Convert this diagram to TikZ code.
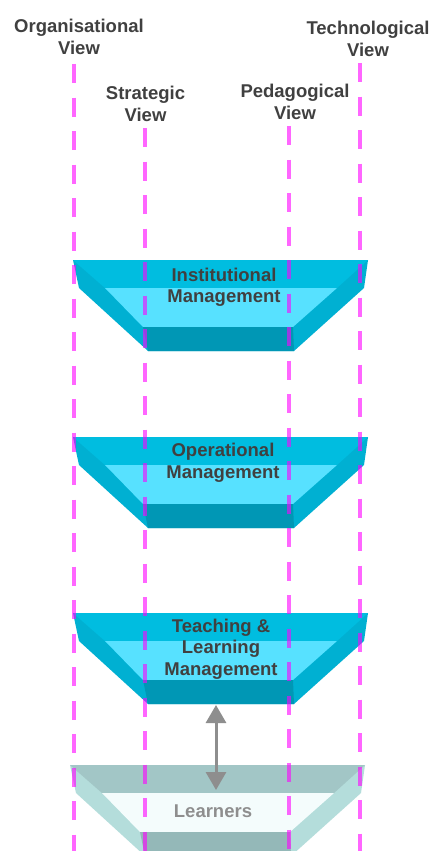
\documentclass[tikz,border=0pt]{standalone}
\usepackage{fontspec}
\setmainfont{Liberation Sans}
\usetikzlibrary{arrows.meta}
\definecolor{txt}{HTML}{404040}
\definecolor{vmag}{RGB}{255,0,255}
\definecolor{cTop}{HTML}{00BDE0}
\definecolor{cSide}{HTML}{00B0D2}
\definecolor{cFace}{HTML}{57E1FF}
\definecolor{cFront}{HTML}{0097B5}
\definecolor{lTop}{HTML}{A2C6C6}
\definecolor{lSide}{HTML}{B4DDDB}
\definecolor{lFace}{HTML}{F4FCFC}
\definecolor{lFront}{HTML}{94B8B8}
\definecolor{arrowgrey}{HTML}{8E8E8E}
\newcommand\troughshape[5]{%
  \begin{scope}[yshift=-#1pt]
    \fill[#3] (73,0) -- (368,0) -- (364,28) -- (294,91) -- (148,91) -- (79,28) -- cycle;
    \fill[#2] (73,0) -- (368,0) -- (337,28) -- (105,28) -- cycle;
    \fill[#4] (105,28) -- (337,28) -- (293,67) -- (143,67) -- cycle;
    \fill[#5] (143,67) -- (293,67) -- (294,91) -- (148,91) -- cycle;
  \end{scope}}
\tikzset{
  lbl/.style={font=\fontsize{18.5}{21.5}\selectfont\bfseries, text=txt, align=center, inner sep=0pt},
  viewline/.style={draw=vmag, draw opacity=0.6, line width=4pt, dash pattern=on 19pt off 14.5pt},
  conn/.style={draw=arrowgrey, line width=3pt, {Triangle[width=20pt,length=18pt]}-{Triangle[width=20pt,length=18pt]}}
}
\begin{document}
\begin{tikzpicture}[x=1pt,y=-1pt]
\useasboundingbox (0,0) rectangle (435,851);
\clip (0,0) rectangle (435,851);
\fill[white] (0,0) rectangle (435,851);
% troughs
\troughshape{260}{cTop}{cSide}{cFace}{cFront}
\troughshape{437}{cTop}{cSide}{cFace}{cFront}
\troughshape{613}{cTop}{cSide}{cFace}{cFront}
\begin{scope}[xshift=-3pt]
\troughshape{765}{lTop}{lSide}{lFace}{lFront}
\end{scope}
% view lines
\coordinate (orgtop) at (74,64);   \coordinate (orgbot) at (74,851);
\coordinate (strtop) at (145,128); \coordinate (strbot) at (145,851);
\coordinate (pedtop) at (289,126); \coordinate (pedbot) at (289,851);
\coordinate (tectop) at (360,63);  \coordinate (tecbot) at (360,851);
\draw[viewline] (orgtop) -- (orgbot);
\draw[viewline] (strtop) -- (strbot);
\draw[viewline] (pedtop) -- (pedbot);
\draw[viewline] (tectop) -- (tecbot);
% view labels
\node[lbl] (orgview) at (79,37) {Organisational\\View};
\node[lbl] (stratview) at (145.5,104) {Strategic\\View};
\node[lbl] (pedview) at (295,102) {Pedagogical\\View};
\node[lbl] (techview) at (368,39) {Technological\\View};
% layer labels
\node[lbl] (inst) at (224,287.5) {Institutional\\Management};
\node[lbl] (oper) at (223,463) {Operational\\Management};
\node[lbl] (teach) at (221,649) {Teaching \&\\Learning\\Management};
\node[lbl, text=arrowgrey] (learn) at (213,811) {Learners};
% connector
\coordinate (teachbot) at (216,705);
\coordinate (learntop) at (216,790);
\draw[conn] (teachbot) -- (learntop);
\end{tikzpicture}
\end{document}
